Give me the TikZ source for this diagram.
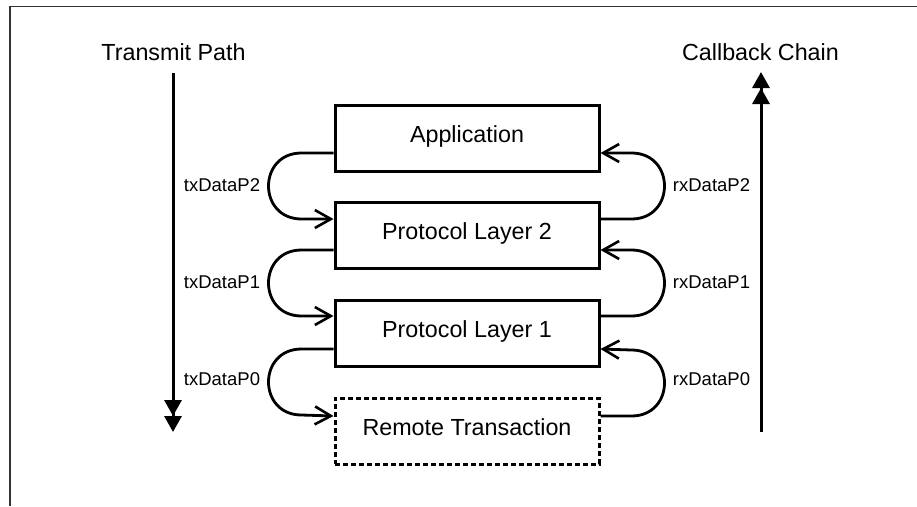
\documentclass[tikz,border=0pt]{standalone}
\usepackage{fontspec}
\setmainfont{Liberation Sans}
\usetikzlibrary{arrows.meta,calc}
\begin{document}
\begin{tikzpicture}[x=1pt,y=-1pt,
  layerbox/.style={draw=black, line width=3pt, minimum width=264pt, minimum height=66pt, inner sep=0pt,
    text height=17pt, text depth=9pt, font=\fontsize{23.3}{28}\selectfont},
  remotebox/.style={layerbox, dash pattern=on 5pt off 3pt},
  flowlink/.style={line width=2.8pt, -{Straight Barb[length=16pt,width=18pt,line width=2.6pt]}},
  flowlabel/.style={font=\fontsize{18.5}{22}\selectfont, inner sep=0pt},
  titletext/.style={font=\fontsize{23.3}{28}\selectfont, inner sep=0pt},
  mainarrow/.style={line width=3pt, -{Triangle[length=16pt,width=17pt] Triangle[length=16pt,width=17pt]}}
]
\useasboundingbox (0,0) rectangle (917,506);
% frame
\draw[line width=1.5pt, color=black!80] (10,506) -- (10,6.5) -- (917,6.5);

% titles and main arrows
\node[titletext] (txt) at (173.5,52) {Transmit Path};
\node[titletext] (cbt) at (760.5,52) {Callback Chain};
\coordinate (txs) at (173,73);
\coordinate (txe) at (173,432);
\coordinate (cbs) at (761,432);
\coordinate (cbe) at (761,72);
\draw[mainarrow] (txs) -- (txe);
\draw[mainarrow] (cbs) -- (cbe);

% boxes
\node[layerbox] (app) at (467,138) {Application};
\node[layerbox] (pl2) at (467,235) {Protocol Layer 2};
\node[layerbox] (pl1) at (467,333) {Protocol Layer 1};
\node[remotebox] (rem) at (467,431) {Remote Transaction};

% transmit curves (left)
\draw[flowlink] ($(app.west)+(0,15)$) -- ++(-32,0) .. controls +(-44,0) and +(-44,0) .. ++(0,66) -- ($(pl2.west)+(0,-16)$);
\draw[flowlink] ($(pl2.west)+(0,15)$) -- ++(-32,0) .. controls +(-44,0) and +(-44,0) .. ++(0,66) -- ($(pl1.west)+(0,-17)$);
\draw[flowlink] ($(pl1.west)+(0,16)$) -- ++(-32,0) .. controls +(-44,0) and +(-44,0) .. ++(0,66) -- ($(rem.west)+(0,-15)$);

% callback curves (right)
\draw[flowlink] ($(pl2.east)+(0,-16)$) -- ++(31,0) .. controls +(44,0) and +(44,0) .. ++(0,-66) -- ($(app.east)+(0,15)$);
\draw[flowlink] ($(pl1.east)+(0,-17)$) -- ++(31,0) .. controls +(44,0) and +(44,0) .. ++(0,-66) -- ($(pl2.east)+(0,15)$);
\draw[flowlink] ($(rem.east)+(0,-15)$) -- ++(31,0) .. controls +(44,0) and +(44,0) .. ++(0,-66) -- ($(pl1.east)+(0,16)$);

% labels
\node[flowlabel] (tx2) at (222,185) {txDataP2};
\node[flowlabel] (tx1) at (222,282) {txDataP1};
\node[flowlabel] (tx0) at (222,379) {txDataP0};
\node[flowlabel] (rx2) at (711.5,185) {rxDataP2};
\node[flowlabel] (rx1) at (711.5,282) {rxDataP1};
\node[flowlabel] (rx0) at (711.5,379) {rxDataP0};
\end{tikzpicture}
\end{document}
